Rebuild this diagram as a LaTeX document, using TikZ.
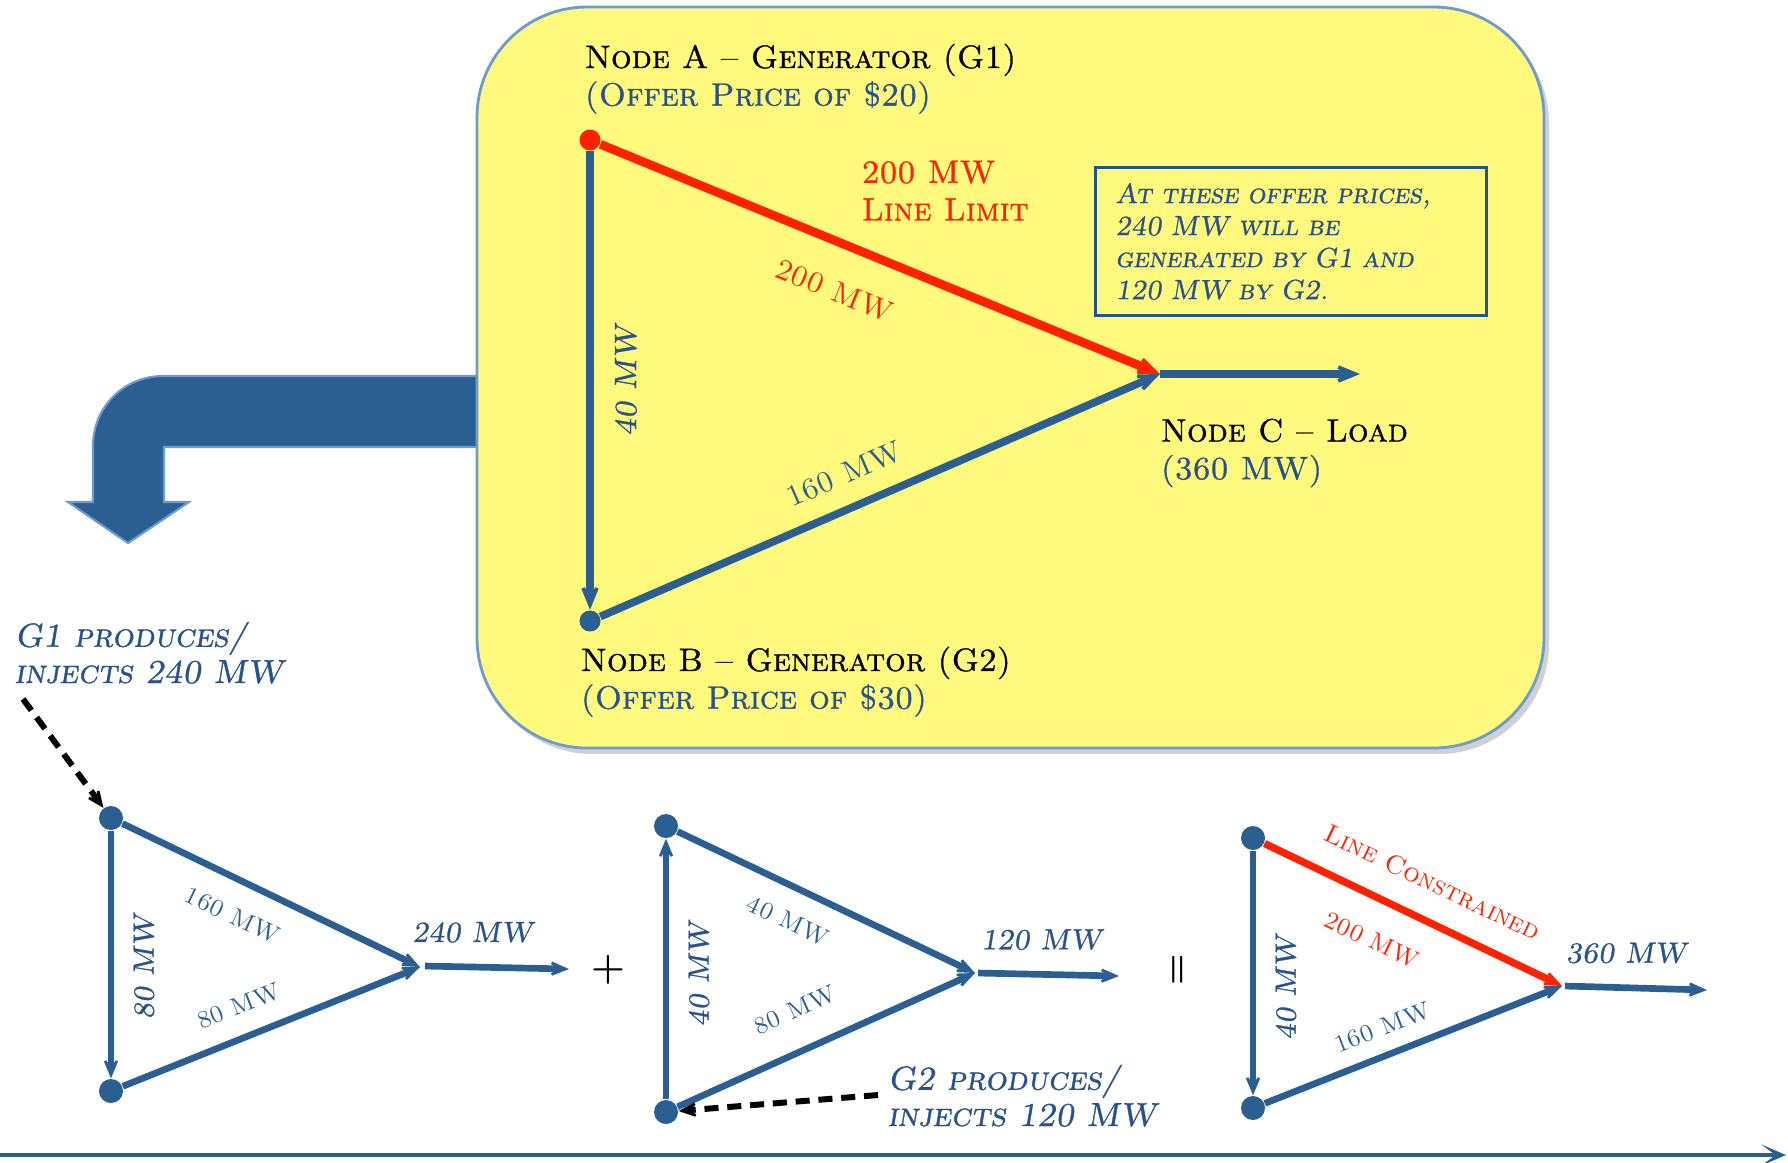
\documentclass[tikz,border=0pt]{standalone}
\usepackage{fontspec}
\usetikzlibrary{arrows.meta}

\newfontfamily\capsfont[Extension=.otf,Ligatures=TeX]{lmromancaps10-regular}
\newfontfamily\capsbfont[Extension=.otf,Ligatures=TeX,FakeBold=1]{lmromancaps10-regular}
\newfontfamily\capsslfont[Extension=.otf,Ligatures=TeX,FakeBold=1]{lmromancaps10-oblique}

\definecolor{flowblue}{HTML}{2B5F91}
\definecolor{textblue}{HTML}{27528A}
\definecolor{limitred}{HTML}{FF2200}
\definecolor{padyellow}{HTML}{FFFA7D}
\definecolor{padline}{HTML}{6C9BD2}

\begin{document}
\begin{tikzpicture}[x=0.01cm,y=-0.01cm,
    flow/.style={draw=flowblue,line width=2.2pt,-{Stealth[length=11pt,width=9pt,inset=7pt]}},
    flowsm/.style={draw=flowblue,line width=1.9pt,-{Stealth[length=9pt,width=7.5pt,inset=6pt]}},
    limit/.style={draw=limitred},
    inject/.style={draw=black,line width=1.7pt,dash pattern=on 4pt off 2.5pt,-{Stealth[length=8pt,width=7pt,inset=5pt]}},
    dot/.style={circle,fill=flowblue,inner sep=0pt,minimum size=0.21cm},
    dotsm/.style={circle,fill=flowblue,inner sep=0pt,minimum size=0.24cm},
    title/.style={font=\capsbfont\fontsize{9.2}{10.7}\selectfont,align=left,anchor=north west,inner sep=0pt},
    note/.style={font=\capsslfont\fontsize{9.5}{10.3}\selectfont,text=textblue,align=left,anchor=north west,inner sep=0pt},
    mw/.style={font=\capsfont\fontsize{8.5}{10}\selectfont,text=flowblue,inner sep=0pt},
    mwsm/.style={font=\capsfont\fontsize{7}{8}\selectfont,text=flowblue,inner sep=0pt},
    mwit/.style={font=\capsslfont\fontsize{8.3}{10}\selectfont,text=textblue,inner sep=0pt},
    vert/.style={rotate=90,anchor=north,inner ysep=5.5pt}
]
\useasboundingbox (0,0) rectangle (1788,1162);

% 转折箭头
\fill[flowblue,draw=padline,line width=0.6pt] (477,376) -- (163,376)
    .. controls (124,376) and (93,407) .. (93,446) -- (93,502) -- (68,502)
    -- (128,543) -- (189,502) -- (164,502) -- (164,447) -- (477,447) -- cycle;

% 黄色区域
\fill[black,opacity=0.18,rounded corners=1.1cm] (482,13) rectangle (1549,754);
\draw[draw=padline,fill=padyellow,line width=0.8pt,rounded corners=1.1cm] (477,7) rectangle (1544,748);

% 主三角形
\node[dot,fill=limitred] (A) at (590,140) {};
\node[dot] (B) at (590,621) {};
\coordinate (C) at (1160,374);
\coordinate (Cend) at (1360,374);

\draw[flow] (A) -- (B) node[pos=.5,mwit,vert,inner ysep=6pt,font=\capsslfont\fontsize{8.8}{10}\selectfont] {40 MW};
\draw[flow,limit,line width=2.5pt] (A) -- (C) node[sloped,pos=.45,below=9pt,mw,text=limitred] {200 MW};
\draw[flow] (B) -- (C) node[sloped,pos=.46,above=5.5pt,mw] {160 MW};
\draw[flow] (C) -- (Cend);

\node[title] (nodeA) at (584,43) {Node A -- Generator (G1)\\\textcolor{textblue}{(Offer Price of \$20)}};
\node[title,text=limitred] (limitA) at (861,160) {200 MW\\Line Limit};
\node[title] (nodeC) at (1160,418) {Node C -- Load\\\textcolor{textblue}{(360 MW)}};
\node[title] (nodeB) at (580,646) {Node B -- Generator (G2)\\\textcolor{textblue}{(Offer Price of \$30)}};

\node[draw=textblue,line width=0.8pt,anchor=north west,inner xsep=0.2cm,text width=3.51cm,
      minimum height=1.48cm,align=left,text=textblue,font=\capsslfont\fontsize{7.9}{9.1}\selectfont]
    (offer) at (1094,166) {At these offer prices,\\240 MW will be\\generated by G1 and\\120 MW by G2.};

% 第一个三角形
\node[dotsm] (A1) at (111,818) {};
\node[dotsm] (B1) at (111,1091) {};
\coordinate (C1) at (420,967);
\coordinate (D1) at (425,966);
\coordinate (E1) at (569,969);
\draw[flowsm] (A1) -- (B1) node[pos=.55,mwit,vert] {80 MW};
\draw[flowsm] (A1) -- (C1) node[sloped,pos=.42,below=6.5pt,mwsm] {160 MW};
\draw[flowsm] (B1) -- (C1) node[sloped,pos=.43,above=5.5pt,mwsm] {80 MW};
\draw[flowsm] (D1) -- (E1) node[pos=.33,above=6pt,mwit] {240 MW};

\node[font=\bfseries\fontsize{11}{11}\selectfont] (plus) at (608,970) {+};

% 第二个三角形
\node[dotsm] (A2) at (666,826) {};
\node[dotsm] (B2) at (666,1112) {};
\coordinate (C2) at (975,973);
\coordinate (D2) at (978,973);
\coordinate (E2) at (1119,976);
\draw[flowsm] (B2) -- (A2) node[pos=.48,mwit,vert] {40 MW};
\draw[flowsm] (A2) -- (C2) node[sloped,pos=.42,below=6pt,mwsm] {40 MW};
\draw[flowsm] (B2) -- (C2) node[sloped,pos=.45,above=8pt,mwsm] {80 MW};
\draw[flowsm] (D2) -- (E2) node[pos=.45,above=6pt,mwit] {120 MW};

\node[font=\bfseries\fontsize{10}{10}\selectfont,rotate=90] (equals) at (1180,970) {=};

% 第三个三角形
\node[dotsm] (A3) at (1253,838) {};
\node[dotsm] (B3) at (1253,1108) {};
\coordinate (C3) at (1562,986);
\coordinate (D3) at (1565,986);
\coordinate (E3) at (1707,990);
\draw[flowsm] (A3) -- (B3) node[pos=.56,mwit,vert] {40 MW};
\draw[flowsm,limit,line width=2.1pt] (A3) -- (C3)
    node[sloped,pos=.51,above=7pt,mwsm,text=limitred,font=\capsfont\fontsize{7.5}{8}\selectfont] {Line Constrained}
    node[sloped,pos=.42,below=8pt,mwsm,text=limitred] {200 MW};
\draw[flowsm] (B3) -- (C3) node[sloped,pos=.43,above=4.4pt,mwsm] {160 MW};
\draw[flowsm] (D3) -- (E3) node[pos=.43,above=6pt,mwit] {360 MW};

% 注入说明
\coordinate (g1start) at (23,699);
\draw[inject] (g1start) -- (A1);
\node[note] (g1txt) at (14,621) {G1 produces/\\injects 240 MW};
\coordinate (g2start) at (878,1095);
\draw[inject] (g2start) -- (B2);
\node[note] (g2txt) at (887,1064) {G2 produces/\\injects 120 MW};

% 时间轴
\coordinate (t0) at (0,1155);
\coordinate (t1) at (1786,1155);
\draw[draw=flowblue,line width=1pt,-{Stealth[length=7pt,width=6pt,inset=4pt]}] (t0) -- (t1);
\end{tikzpicture}
\end{document}
